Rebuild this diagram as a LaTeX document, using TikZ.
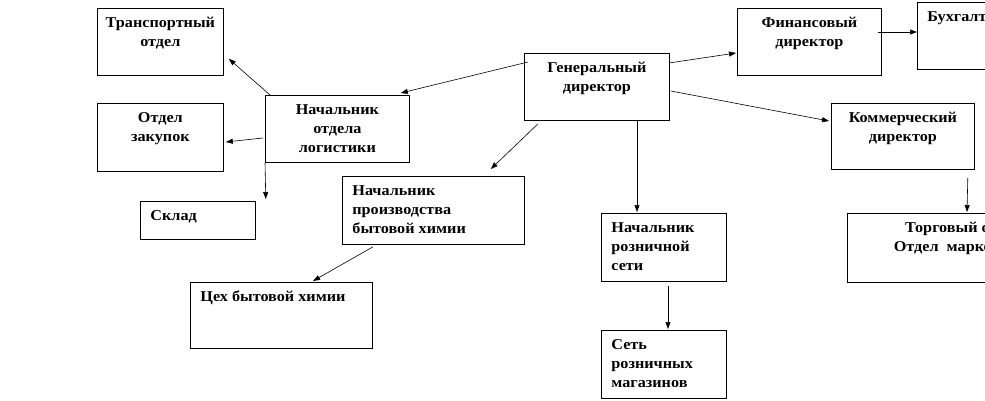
\documentclass[tikz,border=0pt]{standalone}
\usepackage{fontspec}
\setmainfont{Liberation Serif}[FakeStretch=1.08]
\usetikzlibrary{arrows.meta,calc}

% text block of a box: width, height, alignment, text
\newcommand{\boxtext}[4]{\begin{minipage}[t][#2][t]{#1}\vspace*{6pt}#3\strut#4\end{minipage}}
\newcommand{\ctext}[3]{\boxtext{#1}{#2}{\centering}{#3}}
\newcommand{\ltext}[3]{\boxtext{#1}{#2}{\raggedright\leftskip=10pt}{#3}}

\begin{document}
\begin{tikzpicture}[x=1pt,y=-1pt,>={Triangle[length=7pt,width=5pt]},
	unit/.style={draw,line width=0.8pt,inner sep=0pt,anchor=north west,
		font=\fontsize{15}{19}\selectfont\bfseries},
	link/.style={->,line width=0.6pt}]
	\useasboundingbox (0,0) rectangle (985,401);
	\clip (0,0) rectangle (985,401);
	% top manager
		\node [unit] (general) at (524,53) {\ctext{145pt}{67pt}{Генеральный\\директор}};
	% logistics branch
		\node [unit] (logistics) at (265,95) {\ctext{144pt}{67pt}{Начальник\\отдела\\логистики}};
		\node [unit] (transport) at (97,8) {\ctext{126pt}{67pt}{Транспортный\\отдел}};
		\node [unit] (purchase) at (97,103) {\ctext{126pt}{68pt}{Отдел\\закупок}};
		\node [unit] (store) at (140,201) {\ltext{115pt}{38pt}{Склад}};
	% production branch
		\node [unit] (production) at (342,176) {\ltext{182pt}{68pt}{Начальник\\производства\\бытовой химии}};
		\node [unit] (workshop) at (190,282) {\ltext{182pt}{66pt}{Цех бытовой химии}};
	% retail branch
		\node [unit] (retailhead) at (601,213) {\ltext{125pt}{68pt}{Начальник\\розничной\\сети}};
		\node [unit] (shops) at (601,330) {\ltext{125pt}{68pt}{Сеть\\розничных\\магазинов}};
	% finance and commerce
		\node [unit] (finance) at (737,8) {\ctext{144pt}{67pt}{Финансовый\\директор}};
		\node [unit] (accounting) at (917,2) {\ltext{143pt}{67pt}{Бухгалтерия}};
		\node [unit] (commerce) at (831,103) {\ctext{143pt}{66pt}{Коммерческий\\директор}};
		\node [unit] (trade) at (847,213) {\ctext{232pt}{69pt}{Торговый отдел\\Отдел~ маркетинга}};
	% arrows
		\draw [link] ($(general.north west)+(4,9)$) -- ($(logistics.north east)+(-9,-2)$);
		\draw [link] ($(logistics.north west)+(5,0)$) -- ($(transport.south east)+(5,-17)$);
		\draw [link] ($(logistics.north west)+(-2,43)$) -- ($(purchase.north east)+(2,39)$);
		\draw [link] (logistics.south west) -- ($(store.north east)+(10,-2)$);
		\draw [link] ($(general.south west)+(14,3)$) -- ($(production.north east)+(-34,-7)$);
		\draw [link] ($(production.south west)+(31,2)$) -- ($(workshop.north west)+(123,-1)$);
		\draw [link] ($(general.south west)+(113,0)$) -- ($(retailhead.north west)+(36,-1)$);
		\draw [link] ($(retailhead.south west)+(67,4)$) -- ($(shops.north west)+(67,-1)$);
		\draw [link] ($(general.north east)+(-1,10)$) -- ($(finance.north west)+(-1,45)$);
		\draw [link] ($(finance.north east)+(-4,24)$) -- ($(accounting.north west)+(0,30)$);
		\draw [link] ($(general.north east)+(1,38)$) -- ($(commerce.north west)+(-2,18)$);
		\draw [link] ($(commerce.south east)+(-7,8)$) -- ($(trade.north west)+(120,-1)$);
\end{tikzpicture}
\end{document}
